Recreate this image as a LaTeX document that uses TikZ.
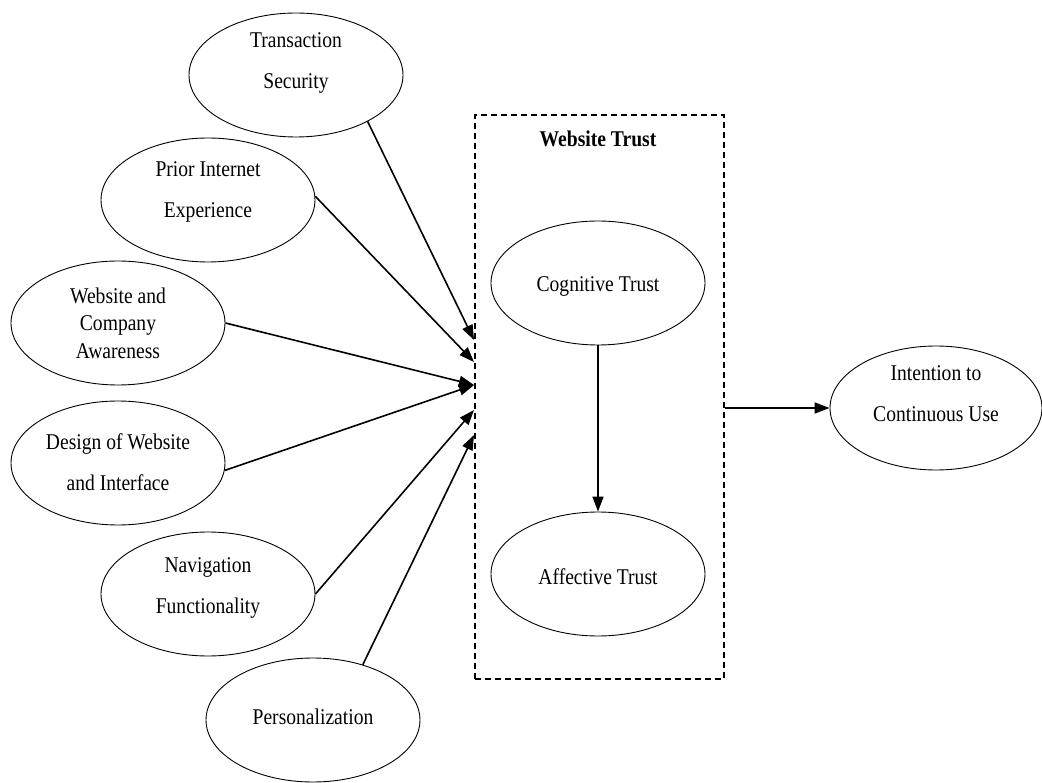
\documentclass[tikz,border=0pt]{standalone}
\usepackage{fontspec}
\setmainfont[FakeStretch=0.87]{Liberation Serif}
\setsansfont{Liberation Sans}
\usetikzlibrary{arrows.meta,shapes.geometric}
\begin{document}
\begin{tikzpicture}[x=1pt,y=-1pt,
  oval/.style={draw,ellipse,line width=0.9pt,inner sep=0pt,minimum width=214pt,minimum height=124pt},
  lbl/.style={align=center,font=\fontsize{22.5}{41}\selectfont},
  lblthree/.style={align=center,font=\fontsize{22.5}{27.5}\selectfont},
  link/.style={line width=1.6pt,-{Triangle[length=15pt,width=11pt]}},
  group/.style={draw,dashed,line width=1.3pt,dash pattern=on 6pt off 4pt}]
\useasboundingbox (0,0) rectangle (1042,783);

% construct ellipses
\node[oval] (ts) at (296,75) {};
\node[oval] (pie) at (208,200) {};
\node[oval] (wca) at (118,323) {};
\node[oval] (dwi) at (118,463) {};
\node[oval] (nf) at (208,594) {};
\node[oval] (pers) at (313,720) {};
\node[oval] (cog) at (598,283) {};
\node[oval] (aff) at (598,574) {};
\node[oval,minimum width=212pt] (icu) at (936,408) {};

% construct labels
\node[lbl] (tsT) at (296,63) {Transaction\\Security};
\node[lbl] (pieT) at (208,192) {Prior Internet\\Experience};
\node[lblthree] (wcaT) at (118,323) {Website and\\Company\\Awareness};
\node[lbl] (dwiT) at (118,462) {Design of Website\\and Interface};
\node[lbl] (nfT) at (208,588) {Navigation\\Functionality};
\node[lbl] (persT) at (313,717) {Personalization};
\node[lbl] (cogT) at (598,286) {Cognitive Trust};
\node[lbl] (affT) at (598,577) {Affective Trust};
\node[lbl] (icuT) at (936,394) {Intention to\\Continuous Use};

% website trust group
\node[group,minimum width=249pt,minimum height=564pt,inner sep=0pt] (wt) at (599.5,397) {};
\node[font=\fontsize{22.5}{27}\selectfont\bfseries] (wtT) at (598,139) {Website Trust};

% arrow ends on the group border
\coordinate (e1) at (474,340);
\coordinate (e2) at (474,362);
\coordinate (e3) at (474,385);
\coordinate (e4) at (474,410);
\coordinate (e5) at (474,435);

\draw[link] (ts.-33) -- (e1);
\draw[link] (pie.2) -- (e2);
\draw[link] (wca.east) -- (e3);
\draw[link] (dwi.-4) -- (e3);
\draw[link] (nf.east) -- (e4);
\draw[link] (pers.48) -- (e5);
\draw[link] (cog) -- (aff);
\draw[link] (wt.east |- icu.west) -- (icu.west);
\end{tikzpicture}
\end{document}
